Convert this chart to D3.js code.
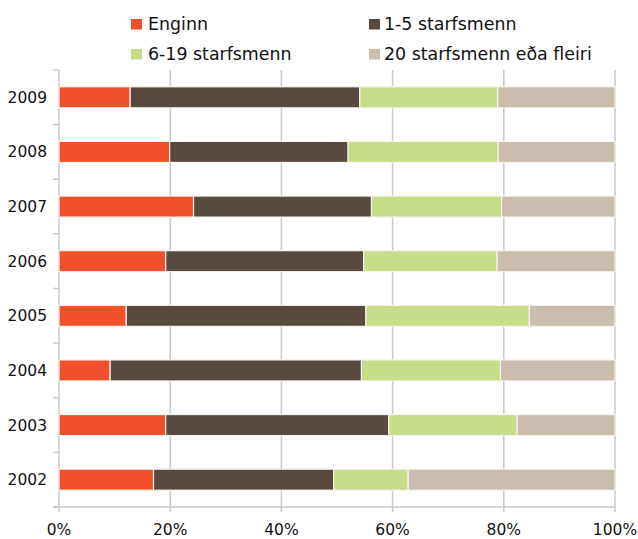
<!DOCTYPE html>
<html><head><meta charset="utf-8">
<script src="https://cdn.jsdelivr.net/npm/d3@7"></script>
<style>html,body{margin:0;padding:0;background:#fff;}</style>
</head><body>
<svg id="c" width="638" height="539"></svg>
<script>
const years = ["2009","2008","2007","2006","2005","2004","2003","2002"];
const seriesNames = ["Enginn","1-5 starfsmenn","6-19 starfsmenn","20 starfsmenn eða fleiri"];
const enginn   = [12.8, 19.9, 24.2, 19.2, 12.1,  9.2, 19.2, 17.0];
const s1to5    = [41.3, 32.1, 32.0, 35.6, 43.1, 45.2, 40.1, 32.4];
const s6to19   = [24.8, 27.0, 23.4, 24.0, 29.4, 25.0, 23.1, 13.4];
const s20plus  = [21.1, 21.0, 20.4, 21.2, 15.4, 20.6, 17.6, 37.2];
const xTicks = [0, 0.2, 0.4, 0.6, 0.8, 1.0];
const colors = ["#f24f2b", "#594a40", "#c7dd8a", "#cbbdad"];

const seriesVals = [enginn, s1to5, s6to19, s20plus];
const rows = years.map((y, i) => {
  const o = {year: y};
  seriesNames.forEach((n, k) => o[n] = seriesVals[k][i]);
  return o;
});
const stacked = d3.stack().keys(seriesNames).offset(d3.stackOffsetExpand)(rows);

const svg = d3.select("#c");
const L = 59, R = 615, T = 70, B = 507;
const x = d3.scaleLinear().domain([0, 1]).range([L, R]);
const y = d3.scaleBand().domain(years).range([T, B]).padding(0);
const barH = y.bandwidth() * 0.385;
const grid = "#c8c8c8";

// gridlines
svg.append("g").selectAll("line").data(xTicks.slice(1)).join("line")
  .attr("x1", d => x(d)).attr("x2", d => x(d))
  .attr("y1", T).attr("y2", B + 5)
  .attr("stroke", grid).attr("stroke-width", 1.5);

// y axis line + ticks
svg.append("line").attr("x1", L).attr("x2", L).attr("y1", T).attr("y2", B + 5)
  .attr("stroke", grid).attr("stroke-width", 1.5);
const bounds = years.map(d => y(d)).concat([B]);
svg.append("g").selectAll("line").data(bounds).join("line")
  .attr("x1", L - 6).attr("x2", L).attr("y1", d => d).attr("y2", d => d)
  .attr("stroke", grid).attr("stroke-width", 1.5);
// x axis line
svg.append("line").attr("x1", L - 6).attr("x2", R).attr("y1", B).attr("y2", B)
  .attr("stroke", grid).attr("stroke-width", 1.5);

// bars
svg.append("g").selectAll("g").data(stacked).join("g")
  .attr("fill", (d, i) => colors[i])
  .selectAll("rect").data(d => d).join("rect")
  .attr("x", d => x(d[0])).attr("width", d => x(d[1]) - x(d[0]))
  .attr("y", d => y(d.data.year) + (y.bandwidth() - barH) / 2)
  .attr("height", barH)
  .attr("stroke", "#f4f4f0").attr("stroke-width", 1.2);

// y labels
svg.append("g").selectAll("text").data(years).join("text")
  .attr("x", 47).attr("y", d => y(d) + y.bandwidth() / 2 + 1)
  .attr("text-anchor", "end").attr("dominant-baseline", "middle")
  .attr("font-family", "DejaVu Sans").attr("font-size", 15.5).attr("fill", "#111")
  .text(d => d);

// x labels
svg.append("g").selectAll("text").data(xTicks).join("text")
  .attr("x", d => x(d)).attr("y", 535)
  .attr("text-anchor", "middle")
  .attr("font-family", "DejaVu Sans").attr("font-size", 15.5).attr("fill", "#111")
  .text(d => d3.format(".0%")(d));

// legend
const legPos = [[131, 30], [369, 30], [131, 60], [369, 60]];
const lg = svg.append("g").selectAll("g").data(seriesNames).join("g")
  .attr("transform", (d, i) => `translate(${legPos[i][0]},${legPos[i][1]})`);
lg.append("rect").attr("x", 0).attr("y", -11).attr("width", 11).attr("height", 10.5)
  .attr("fill", (d, i) => colors[i]);
lg.append("text").attr("x", (d, i) => i % 2 === 0 ? 17 : 15).attr("y", 0)
  .attr("font-family", "DejaVu Sans")
  .attr("font-size", 17.4).attr("fill", "#111")
  .text(d => d);
</script>
</body></html>
